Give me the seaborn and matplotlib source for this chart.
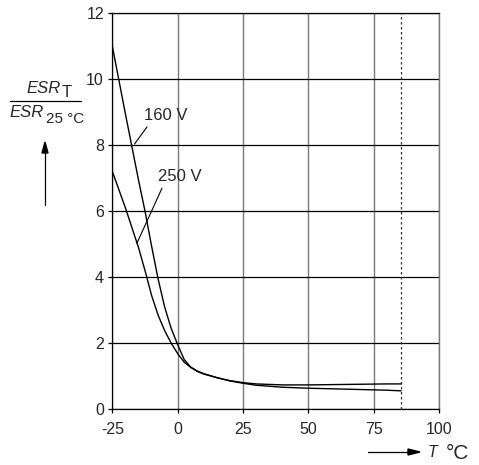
import matplotlib
matplotlib.use("Agg")
import matplotlib.pyplot as plt
import matplotlib.patches as mpatches
import seaborn as sns
import pandas as pd

temps = [-25, -20, -15, -12.5, -10, -7.5, -5, -2.5, 0, 2.5, 5, 7.5, 10, 15, 20, 25, 30, 40, 50, 60, 70, 80, 85.5]
esr_160 = [11.0, 8.95, 6.95, 6.0, 4.95, 3.95, 3.1, 2.45, 1.95, 1.5, 1.27, 1.15, 1.07, 0.95, 0.85, 0.78, 0.72, 0.66, 0.63, 0.61, 0.59, 0.57, 0.55]
esr_250 = [7.2, 6.1, 4.9, 4.2, 3.45, 2.85, 2.38, 2.0, 1.68, 1.42, 1.26, 1.14, 1.06, 0.95, 0.86, 0.8, 0.76, 0.73, 0.73, 0.74, 0.75, 0.76, 0.76]
series = ["160 V", "250 V"]
x_ticks = [-25, 0, 25, 50, 75, 100]
y_ticks = [0, 2, 4, 6, 8, 10, 12]
limit_temp = 85.5

df = pd.DataFrame({
    "T": temps * 2,
    "ESR": esr_160 + esr_250,
    "U": [series[0]] * len(temps) + [series[1]] * len(temps),
})

sns.set_style("white")
plt.rcParams["font.family"] = ["Liberation Sans", "DejaVu Sans"]
plt.rcParams["axes.unicode_minus"] = False

fig = plt.figure(figsize=(4.79, 4.65), dpi=100)
ax = fig.add_axes([112.3 / 479, 56 / 465, (439 - 112.3) / 479, (409 - 13) / 465])

sns.lineplot(data=df, x="T", y="ESR", hue="U", palette=["black", "black"],
             linewidth=1.0, legend=False, ax=ax, zorder=3)

ax.set_xlim(-25, 100)
ax.set_ylim(0, 12)
ax.set_xticks(x_ticks)
ax.set_yticks(y_ticks)
ax.set_xlabel("")
ax.set_ylabel("")
ax.xaxis.grid(True, color="#7a7a7a", linewidth=1.0)
ax.yaxis.grid(True, color="black", linewidth=0.9)
ax.set_axisbelow(True)
for s in ["left", "bottom", "top"]:
    ax.spines[s].set_color("black")
    ax.spines[s].set_linewidth(0.9)
ax.spines["right"].set_color("#7a7a7a")
ax.spines["right"].set_linewidth(1.0)
ax.tick_params(axis="both", which="both", direction="out", length=3, width=0.9,
               color="black", labelsize=11.5, bottom=True, left=True)
ax.tick_params(axis="x", pad=6)
ax.tick_params(axis="y", pad=3)

ax.axvline(limit_temp, color="#333333", linewidth=0.9, linestyle=(0, (2, 2)), zorder=2)

# curve labels with leader lines
ax.text(-4.7, 8.88, series[0], fontsize=12, ha="center", va="center")
ax.plot([-11.7, -16.5], [8.55, 8.03], color="black", linewidth=0.8)
ax.text(1.0, 7.06, series[1], fontsize=12, ha="center", va="center")
ax.plot([-6.0, -15.6], [6.69, 5.02], color="black", linewidth=0.8)

# y label as fraction
def fy(p):
    return 1 - p / 465

fig.text(61 / 479, fy(93), "ESR", fontsize=12, style="italic", ha="right", va="baseline")
fig.text(62 / 479, fy(97), "T", fontsize=12, ha="left", va="baseline")
fig.add_artist(plt.Line2D([10 / 479, 81 / 479], [fy(101), fy(101)],
                          color="black", linewidth=0.9))
fig.text(44 / 479, fy(117), "ESR", fontsize=12, style="italic", ha="right", va="baseline")
fig.text(46 / 479, fy(123), "25 °C", fontsize=11, ha="left", va="baseline")
fig.add_artist(plt.Line2D([45 / 479, 45 / 479], [fy(205), fy(150)],
                          color="black", linewidth=0.9))
fig.patches.append(mpatches.FancyArrow(
    45 / 479, fy(153), 0, 11 / 465, width=0.0001, head_width=6 / 479,
    head_length=11 / 465, length_includes_head=True, color="black",
    transform=fig.transFigure, figure=fig))

# x label with arrow
fig.add_artist(plt.Line2D([368 / 479, 410 / 479], [fy(452), fy(452)],
                          color="black", linewidth=0.9))
fig.patches.append(mpatches.FancyArrow(
    408 / 479, fy(452), 12 / 479, 0, width=0.0001, head_width=6 / 465,
    head_length=12 / 479, length_includes_head=True, color="black",
    transform=fig.transFigure, figure=fig))
fig.text(428 / 479, fy(452), "T", fontsize=11.5, style="italic", ha="left", va="center")
fig.text(446 / 479, fy(453), "°C", fontsize=15, ha="left", va="center")

fig.savefig("out.png", dpi=100)
